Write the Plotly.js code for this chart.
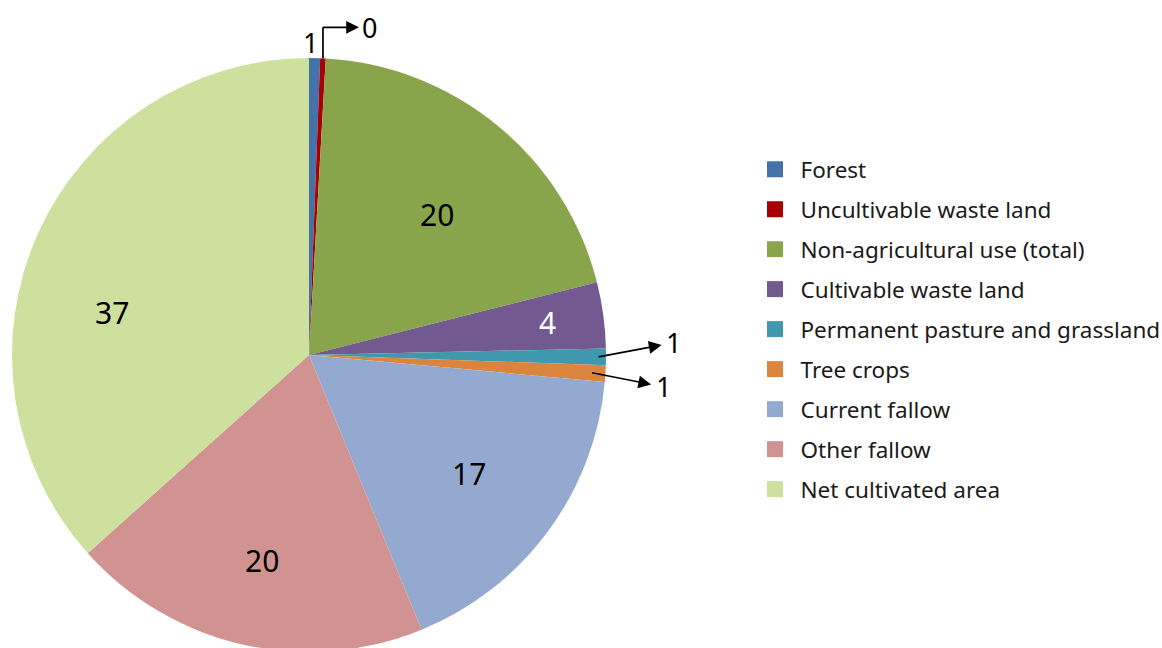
<!DOCTYPE html>
<html>
<head>
<meta charset="utf-8">
<script src="https://cdn.plot.ly/plotly-3.0.1.min.js"></script>
<style>
  html, body { margin: 0; padding: 0; overflow: hidden; background: #ffffff; }
  #chart { width: 1162px; height: 656px; }
</style>
</head>
<body>
<div id="chart"></div>
<script>
// Land use categories (percent of total area)
const categories = [
  'Forest',
  'Uncultivable waste land',
  'Non-agricultural use (total)',
  'Cultivable waste land',
  'Permanent pasture and grassland',
  'Tree crops',
  'Current fallow',
  'Other fallow',
  'Net cultivated area'
];
const shares = [0.6, 0.3, 20.2, 3.6, 0.9, 0.9, 17.4, 19.6, 36.7];
const colors = ['#4572A8', '#A80000', '#89A54C', '#725A90', '#4098AF',
                '#DB843D', '#94A9D0', '#D19392', '#CDE09D'];
const labelColors = ['#000', '#000', '#000', '#fff', '#000', '#000', '#000', '#000', '#000'];
// slices labelled inside; the rest get leader lines
const insideLabel = [false, false, true, true, false, false, true, true, true];
const labelRadius = [0, 0, 0.64, 0.81, 0, 0, 0.67, 0.71, 0.68];
const labelTurn = [0, 0, 3, 0, 0, 0, 0, 0, -12];   // degrees, nudges label off the bisector

// page geometry
const W = 1162, H = 656;
const CX = 309, CY = 355, R = 297;
const FONT = 'Noto Sans, Open Sans, sans-serif';

const px2x = p => p / W;
const px2y = p => 1 - p / H;

// slice mid-angles (clockwise from 12 o'clock)
const total = shares.reduce((a, b) => a + b, 0);
const midAngle = [];
let acc = 0;
shares.forEach(v => {
  midAngle.push(2 * Math.PI * (acc + v / 2) / total);
  acc += v;
});
const edgePoint = (i, f, turnDeg) => {
  const a = midAngle[i] + (turnDeg || 0) * Math.PI / 180;
  return [CX + f * R * Math.sin(a), CY - f * R * Math.cos(a)];
};
const fmt = v => String(Math.round(v));

const pie = {
  type: 'pie',
  labels: categories,
  values: shares,
  sort: false,
  direction: 'clockwise',
  rotation: 0,
  textinfo: 'none',
  hoverinfo: 'label+value',
  showlegend: false,
  marker: { colors: colors, line: { width: 0 } },
  domain: { x: [px2x(CX - R), px2x(CX + R)], y: [px2y(CY + R), px2y(CY - R)] }
};

// legend entries, one group each so rows can be spaced
const legendTraces = categories.map((c, i) => ({
  type: 'scatter',
  mode: 'markers',
  x: [null], y: [null],
  name: c,
  legendgroup: c,
  showlegend: true,
  hoverinfo: 'skip',
  marker: { symbol: 'square', size: 17, color: colors[i], line: { width: 0 } }
}));

const annotations = [];
const shapes = [];
// arrowhead sits at the label end of each leader
const arrowStyle = {
  arrowside: 'start', startarrowhead: 2, startarrowsize: 1.5,
  arrowhead: 2, arrowsize: 1.5, arrowwidth: 1.7, arrowcolor: '#000'
};

// inside value labels
categories.forEach((c, i) => {
  if (!insideLabel[i]) return;
  const [x, y] = edgePoint(i, labelRadius[i], labelTurn[i]);
  annotations.push({
    xref: 'paper', yref: 'paper', x: px2x(x), y: px2y(y),
    text: fmt(shares[i]), showarrow: false,
    xanchor: 'center', yanchor: 'middle',
    font: { family: FONT, size: 30, color: labelColors[i] }
  });
});

// Forest: label just above the rim
{
  const [x, y] = edgePoint(0, 1);
  annotations.push({
    xref: 'paper', yref: 'paper', x: px2x(x - 4), y: px2y(y - 16),
    text: fmt(shares[0]), showarrow: false, xanchor: 'center', yanchor: 'middle',
    font: { family: FONT, size: 27, color: '#000' }
  });
}

// Uncultivable waste land: elbow leader
{
  const [x, y] = edgePoint(1, 1);
  const top = y - 31;
  shapes.push({
    type: 'line', xref: 'paper', yref: 'paper',
    x0: px2x(x), y0: px2y(y), x1: px2x(x), y1: px2y(top),
    line: { color: '#000', width: 1.7 }
  });
  annotations.push(Object.assign({
    xref: 'paper', yref: 'paper', x: px2x(x), y: px2y(top),
    text: fmt(shares[1]), showarrow: true,
    ax: 47, ay: 0, startstandoff: 2, standoff: 0,
    font: { family: FONT, size: 27, color: '#000' }
  }, arrowStyle));
}

// Pasture and tree crops: straight leaders
[[4, 0.975, 75, -14], [5, 0.955, 71, 14]].forEach(([i, f, ax, ay]) => {
  const [x, y] = edgePoint(i, f);
  annotations.push(Object.assign({
    xref: 'paper', yref: 'paper', x: px2x(x), y: px2y(y),
    text: fmt(shares[i]), showarrow: true,
    ax: ax, ay: ay, startstandoff: 3, standoff: 0,
    font: { family: FONT, size: 27, color: '#000' }
  }, arrowStyle));
});

const layout = {
  width: W, height: H,
  margin: { l: 0, r: 0, t: 0, b: 0, autoexpand: false },
  paper_bgcolor: '#ffffff',
  plot_bgcolor: '#ffffff',
  xaxis: { visible: false },
  yaxis: { visible: false },
  showlegend: true,
  legend: {
    x: px2x(749.5), y: px2y(148), xanchor: 'left', yanchor: 'top',
    orientation: 'v', traceorder: 'grouped', tracegroupgap: 7.75,
    itemwidth: 41,
    font: { family: FONT, size: 22.5, color: '#1a1a1a' },
    bgcolor: 'rgba(0,0,0,0)', borderwidth: 0
  },
  annotations: annotations,
  shapes: shapes
};

Plotly.newPlot('chart', [pie].concat(legendTraces), layout, { displayModeBar: false, staticPlot: true });
</script>
</body>
</html>
